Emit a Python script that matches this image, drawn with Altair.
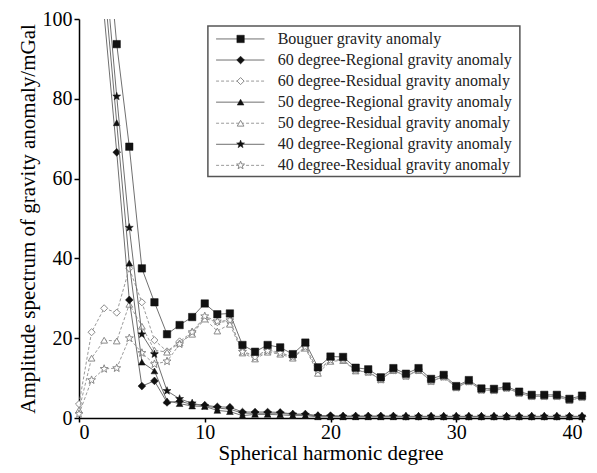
import math
import altair as alt
import pandas as pd

degrees = list(range(0, 41))

bouguer = [None, None, 128, 93.7, 68.0, 37.5, 29.0, 21.0, 23.3, 25.3, 28.7, 26.0, 26.2,
           18.3, 16.6, 18.3, 17.7, 16.0, 18.9, 12.7, 15.4, 15.3, 12.6, 12.2, 10.2, 12.5,
           11.1, 12.5, 9.8, 10.8, 8.0, 9.5, 7.4, 7.3, 7.9, 6.6, 5.8, 5.8, 5.8, 4.8, 5.6]

reg60 = [None, None, 101, 66.6, 29.6, 8.0, 9.3, 3.9, 4.2, 3.4, 3.2, 2.8, 2.7,
         1.5, 1.5, 1.5, 1.4, 1.0, 1.0, 0.6, 0.6, 0.5, 0.5, 0.5, 0.5, 0.5,
         0.4, 0.4, 0.4, 0.4, 0.4, 0.4, 0.4, 0.4, 0.4, 0.4, 0.4, 0.4, 0.4, 0.4, 0.4]

res60 = [3.5, 21.5, 27.5, 26.4, 37.5, 29.0, 19.5, 16.7, 19.2, 21.5, 25.0, 24.0, 24.2,
         16.8, 15.5, 17.0, 16.5, 15.2, 17.8, 12.0, 14.6, 14.6, 12.0, 11.6, 9.7, 12.0,
         10.6, 12.0, 9.3, 10.4, 7.7, 9.2, 7.1, 7.0, 7.6, 6.3, 5.5, 5.5, 5.5, 4.5, 5.3]

reg50 = [None, None, 109, 74.0, 38.8, 14.0, 11.8, 4.3, 3.6, 3.0, 2.9, 1.9, 1.6,
         0.6, 0.9, 0.9, 0.8, 0.6, 0.6, 0.3, 0.3, 0.3, 0.3, 0.3, 0.3, 0.3,
         0.3, 0.3, 0.3, 0.3, 0.3, 0.3, 0.3, 0.3, 0.3, 0.3, 0.3, 0.3, 0.3, 0.3, 0.3]

res50 = [2.0, 15.0, 19.5, 19.3, 28.5, 23.0, 17.0, 16.5, 18.8, 21.0, 24.8, 21.8, 23.5,
         16.3, 14.8, 16.5, 16.0, 15.0, 17.5, 11.2, 14.2, 14.4, 11.8, 11.5, 9.6, 11.9,
         10.5, 11.9, 9.2, 10.3, 7.6, 9.1, 7.0, 6.9, 7.5, 6.2, 5.4, 5.4, 5.4, 4.4, 5.2]

reg40 = [None, None, 116, 80.6, 47.7, 21.0, 16.0, 6.8, 4.8, 3.7, 3.0, 2.5, 2.2,
         1.2, 1.2, 1.2, 1.2, 0.9, 0.8, 0.5, 0.4, 0.4, 0.4, 0.4, 0.4, 0.4,
         0.4, 0.4, 0.4, 0.4, 0.4, 0.4, 0.4, 0.4, 0.4, 0.4, 0.4, 0.4, 0.4, 0.4, 0.4]

res40 = [1.0, 9.5, 12.3, 12.5, 20.0, 16.3, 13.5, 14.2, 18.5, 21.5, 25.5, 24.2, 24.5,
         16.6, 15.2, 16.8, 16.3, 15.3, 17.8, 11.9, 14.5, 14.5, 11.9, 11.5, 9.6, 11.9,
         10.5, 11.9, 9.2, 10.3, 7.6, 9.1, 7.0, 6.9, 7.5, 6.2, 5.4, 5.4, 5.4, 4.4, 5.2]

series_names = [
    "Bouguer gravity anomaly",
    "60 degree-Regional gravity anomaly",
    "60 degree-Residual gravity anomaly",
    "50 degree-Regional gravity anomaly",
    "50 degree-Residual gravity anomaly",
    "40 degree-Regional gravity anomaly",
    "40 degree-Residual gravity anomaly",
]
series_values = [bouguer, reg60, res60, reg50, res50, reg40, res40]


def star_path():
    pts = []
    for k in range(10):
        r = 1.0 if k % 2 == 0 else 0.42
        a = math.radians(-90 + 36 * k)
        pts.append(f"{r * math.cos(a):.3f},{r * math.sin(a):.3f}")
    return "M" + " L".join(pts) + " Z"


STAR = star_path()
# style per series: shape, filled, dashed, size
styles = [
    ("square", True, False, 55),
    ("diamond", True, False, 60),
    ("diamond", False, True, 50),
    ("triangle-up", True, False, 45),
    ("triangle-up", False, True, 45),
    (STAR, True, False, 70),
    (STAR, False, True, 70),
]

FONT = "Liberation Serif"
XT = "Spherical harmonic degree"
YT = "Amplitude spectrum of gravity anomaly/mGal"
xscale = alt.Scale(domain=[0, 40], nice=False)
yscale = alt.Scale(domain=[0, 100], nice=False)


def X(f="x"):
    return alt.X(f"{f}:Q", scale=xscale, title=XT,
                 axis=alt.Axis(values=[0, 10, 20, 30, 40], title=XT))


def Y(f="y"):
    return alt.Y(f"{f}:Q", scale=yscale, title=YT,
                 axis=alt.Axis(values=[0, 20, 40, 60, 80, 100], title=YT))


def line_style(dashed):
    if dashed:
        return dict(color="#9a9a9a", strokeWidth=1, strokeDash=[3, 2])
    return dict(color="#707070", strokeWidth=1)


def point_mark(shape, filled, size):
    if filled:
        return alt.MarkDef(type="point", shape=shape, filled=True, fill="#111111",
                           stroke="#111111", strokeWidth=0.5, size=size, opacity=1)
    return alt.MarkDef(type="point", shape=shape, filled=True, fill="white",
                       stroke="#8a8a8a", strokeWidth=1, size=size, opacity=1)


layers = []
order = [2, 4, 6, 1, 3, 5, 0]
for i in order:
    vals = series_values[i]
    shape, filled, dashed, size = styles[i]
    df = pd.DataFrame({"x": degrees, "y": vals}).dropna()
    layers.append(alt.Chart(df).mark_line(clip=True, **line_style(dashed)).encode(x=X(), y=Y()))
    dfp = df[df["y"] <= 100]
    layers.append(alt.Chart(dfp, mark=point_mark(shape, filled, size)).encode(x=X(), y=Y()))

# legend (placed in data coordinates)
box = pd.DataFrame({"x": [10.25], "x2": [35.06], "y": [98.25], "y2": [60.5]})
layers.append(alt.Chart(box).mark_rect(fill="white", stroke="#555555", strokeWidth=1.5)
              .encode(x=X(), x2="x2:Q", y=Y(), y2="y2:Q"))
for i, name in enumerate(series_names):
    shape, filled, dashed, size = styles[i]
    ry = 95.0 - i * 5.28
    seg = pd.DataFrame({"x": [10.9], "x2": [14.75], "y": [ry]})
    layers.append(alt.Chart(seg).mark_rule(**line_style(dashed)).encode(x=X(), x2="x2:Q", y=Y()))
    pt = pd.DataFrame({"x": [12.85], "y": [ry]})
    layers.append(alt.Chart(pt, mark=point_mark(shape, filled, size)).encode(x=X(), y=Y()))
    tx = pd.DataFrame({"x": [15.8], "y": [ry], "t": [name]})
    layers.append(alt.Chart(tx).mark_text(align="left", baseline="middle", font=FONT,
                                          fontSize=16, color="#222222")
                  .encode(x=X(), y=Y(), text="t:N"))

chart = alt.layer(*layers).properties(
    width=503, height=399,
    padding={"left": 9, "top": 1, "right": 0, "bottom": 6},
).configure_view(
    stroke=None
).configure_axis(
    grid=False,
    domainColor="black", domainWidth=1.5,
    tickColor="black", tickWidth=1.5, tickSize=5,
    labelFont=FONT, labelFontSize=20, labelColor="black", labelPadding=2,
    titleFont=FONT, titleFontSize=21, titleFontWeight="normal", titleColor="black",
).configure_axisY(titlePadding=4).configure_axisX(titlePadding=0, labelPadding=0, tickSize=4)

chart.save("out.html", embed_options={"renderer": "svg", "actions": False})
